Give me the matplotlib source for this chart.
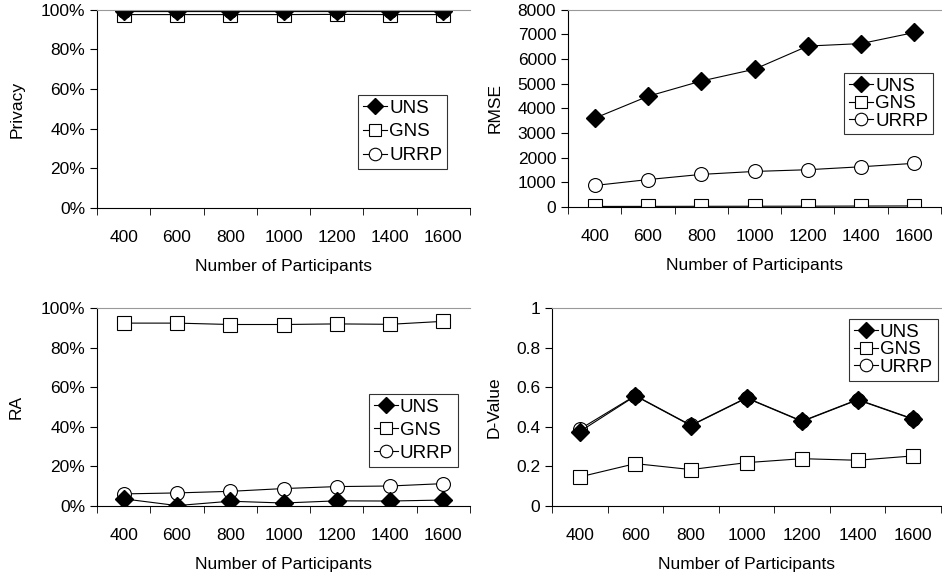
import matplotlib
matplotlib.use("Agg")
import matplotlib.pyplot as plt
import numpy as np

plt.rcParams["font.family"] = ["Liberation Sans", "DejaVu Sans"]
plt.rcParams["font.size"] = 12.5

# ---------------- data ----------------
participants = ["400", "600", "800", "1000", "1200", "1400", "1600"]
series = ["UNS", "GNS", "URRP"]

privacy_uns = [99.5, 99.5, 99.5, 99.5, 99.5, 99.5, 99.5]
privacy_gns = [97.6, 97.6, 97.6, 97.6, 97.7, 97.6, 97.6]
privacy_urrp = [99.3, 99.3, 99.3, 99.3, 99.3, 99.3, 99.3]

rmse_uns = [3600, 4490, 5110, 5590, 6530, 6630, 7080]
rmse_gns = [20, 22, 25, 28, 30, 35, 40]
rmse_urrp = [870, 1110, 1320, 1440, 1510, 1630, 1770]

ra_uns = [3.6, 0.2, 2.4, 1.5, 2.6, 2.5, 3.0]
ra_gns = [92.4, 92.4, 91.7, 91.7, 92.0, 91.8, 93.3]
ra_urrp = [6.1, 6.6, 7.4, 8.8, 9.8, 10.1, 11.3]

dv_uns = [0.376, 0.556, 0.406, 0.545, 0.427, 0.536, 0.438]
dv_gns = [0.147, 0.214, 0.184, 0.219, 0.239, 0.231, 0.253]
dv_urrp = [0.388, 0.558, 0.408, 0.547, 0.429, 0.538, 0.440]

# ---------------- style ----------------
styles = {
    "UNS": dict(marker="D", markersize=9, markerfacecolor="black",
                markeredgecolor="black"),
    "GNS": dict(marker="s", markersize=10, markerfacecolor="white",
                markeredgecolor="black", markeredgewidth=0.8),
    "URRP": dict(marker="o", markersize=10, markerfacecolor="white",
                 markeredgecolor="black", markeredgewidth=0.8),
}

x = np.arange(len(participants))

fig = plt.figure(figsize=(9.42, 5.78), dpi=100)


def panel(rect, data, ylabel, ylim, yticks, yfmt, leg_anchor, leg_space,
          ylab_x):
    ax = fig.add_axes(rect)
    lines = {}
    for name in ["GNS", "URRP", "UNS"]:
        ln, = ax.plot(x, data[name], color="black", linewidth=0.8,
                      label=name, **styles[name])
        lines[name] = ln
    ax.set_xlim(-0.5, len(participants) - 0.5)
    ax.set_ylim(*ylim)
    ax.set_yticks(yticks)
    ax.set_yticklabels([yfmt(v) for v in yticks])
    ax.set_xticks(x)
    ax.set_xticklabels(participants)
    ax.tick_params(axis="x", which="major", length=0, pad=16)
    ax.set_xticks(np.arange(-0.5, len(participants)), minor=True)
    ax.tick_params(axis="x", which="minor", length=5, direction="out")
    ax.tick_params(axis="y", length=5, direction="out")
    ax.spines["right"].set_visible(False)
    ax.spines["top"].set_color("#999999")
    ax.set_xlabel("Number of Participants", labelpad=10)
    ax.set_ylabel(ylabel)
    ax.yaxis.set_label_coords(ylab_x, 0.5)
    leg = ax.legend([lines[s] for s in series], series, loc="upper left",
                    bbox_to_anchor=leg_anchor, frameon=True, fancybox=False,
                    edgecolor="black", handlelength=1.3, handletextpad=0.1,
                    labelspacing=leg_space, borderpad=0.25, borderaxespad=0,
                    fontsize=13.5, markerscale=0.9)
    leg.get_frame().set_linewidth(0.8)
    return ax


pct = lambda v: f"{int(v)}%"

panel([0.103, 0.640, 0.396, 0.343],
      {"UNS": privacy_uns, "GNS": privacy_gns, "URRP": privacy_urrp},
      "Privacy", (0, 100), [0, 20, 40, 60, 80, 100], pct, (0.70, 0.571),
      0.35, -0.193)

panel([0.603, 0.642, 0.396, 0.341],
      {"UNS": rmse_uns, "GNS": rmse_gns, "URRP": rmse_urrp},
      "RMSE", (0, 8000), list(range(0, 8001, 1000)), lambda v: f"{int(v)}",
      (0.74, 0.68), 0.02, -0.174)

panel([0.103, 0.1246, 0.396, 0.3424],
      {"UNS": ra_uns, "GNS": ra_gns, "URRP": ra_urrp},
      "RA", (0, 100), [0, 20, 40, 60, 80, 100], pct, (0.729, 0.566),
      0.32, -0.198)

panel([0.586, 0.1246, 0.413, 0.3424],
      {"UNS": dv_uns, "GNS": dv_gns, "URRP": dv_urrp},
      "D-Value", (0, 1), [0, 0.2, 0.4, 0.6, 0.8, 1.0],
      lambda v: "0" if v == 0 else ("1" if v == 1 else f"{v:.1f}"),
      (0.763, 0.944), 0.02, -0.129)

fig.savefig("out.png", dpi=100)
